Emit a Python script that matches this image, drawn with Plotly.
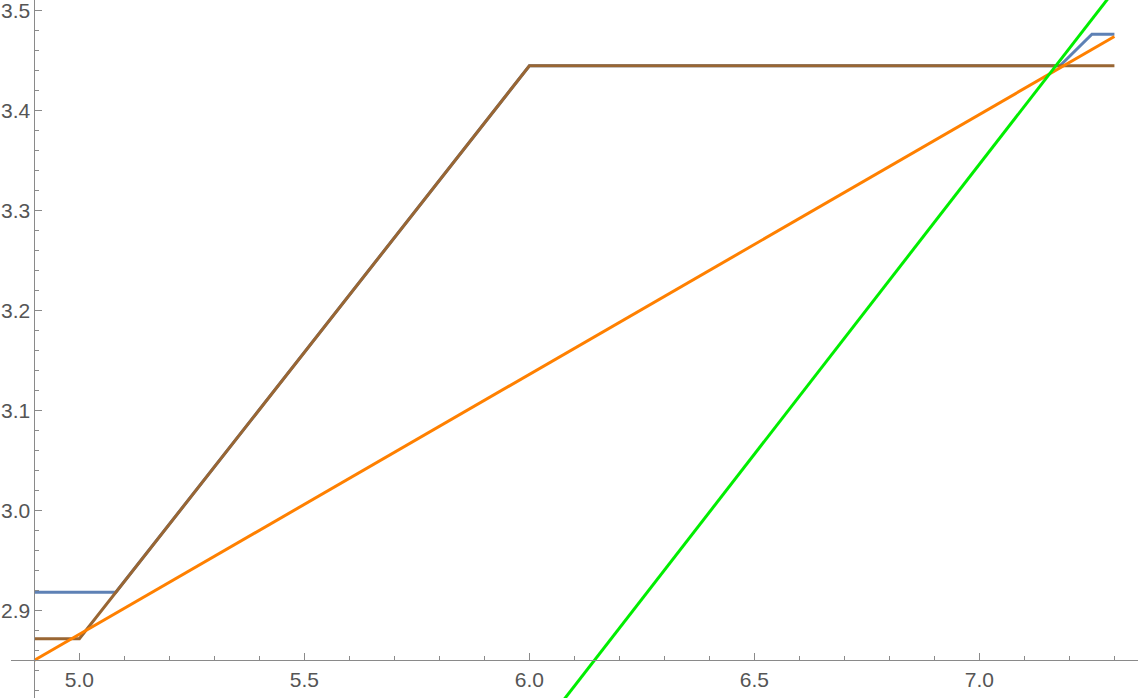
import plotly.graph_objects as go

# curve data
blue_x = [4.9, 5.081, 6.0, 7.179, 7.25, 7.3]
blue_y = [2.918, 2.918, 3.4445, 3.4445, 3.476, 3.476]

brown_x = [4.9, 5.0, 6.0, 7.3]
brown_y = [2.8715, 2.8715, 3.4445, 3.4445]

orange_x = [4.9, 7.3]
orange_y = [2.85, 3.4738]

green_x = [6.06, 7.30]
green_y = [2.801, 3.520]

x_range = [4.8236, 7.3524]
y_range = [2.8123, 3.5103]
axes_origin = (4.9, 2.85)
x_axis_start = 4.848  # x-axis line starts a bit left of the y-axis

AXIS_COL = "#8a8a8a"
LABEL_COL = "#555555"


def line(x, y, color):
    return go.Scatter(x=x, y=y, mode="lines", line=dict(color=color, width=3),
                      hoverinfo="skip", showlegend=False)


fig = go.Figure()
fig.add_trace(line(blue_x, blue_y, "#5E81B5"))
fig.add_trace(line(brown_x, brown_y, "#996633"))
fig.add_trace(line(orange_x, orange_y, "#FF8000"))
fig.add_trace(line(green_x, green_y, "#00EE00"))

# place axis lines at the axes origin (paper fractions)
xpos = (axes_origin[1] - y_range[0]) / (y_range[1] - y_range[0])
ypos = (axes_origin[0] - x_range[0]) / (x_range[1] - x_range[0])

# hide the bit of the x-axis line left of where Mathematica starts it
fig.add_shape(type="line", xref="x", yref="paper",
              x0=x_range[0], x1=x_axis_start, y0=xpos, y1=xpos,
              line=dict(color="white", width=3), layer="above")

fig.update_layout(
    width=1138, height=698,
    margin=dict(l=0, r=0, t=0, b=0),
    paper_bgcolor="white", plot_bgcolor="white",
    font=dict(family="Liberation Sans, Arial, sans-serif", size=21, color=LABEL_COL),
    xaxis=dict(
        range=x_range, anchor="free", position=xpos,
        showgrid=False, zeroline=False,
        showline=True, linecolor=AXIS_COL, linewidth=1,
        tick0=5.0, dtick=0.5, tickformat=".1f",
        ticks="inside", ticklen=7, tickcolor=AXIS_COL,
        ticklabeloverflow="allow",
        minor=dict(dtick=0.1, tick0=5.0, ticks="inside", ticklen=4, tickcolor=AXIS_COL, showgrid=False),
    ),
    yaxis=dict(
        range=y_range, anchor="free", position=ypos,
        showgrid=False, zeroline=False,
        showline=True, linecolor=AXIS_COL, linewidth=1,
        tick0=2.9, dtick=0.1, tickformat=".1f",
        ticks="inside", ticklen=7, tickcolor=AXIS_COL,
        ticklabeloverflow="allow",
        minor=dict(dtick=0.02, tick0=2.9, ticks="inside", ticklen=4, tickcolor=AXIS_COL, showgrid=False),
    ),
)

fig.write_html("out.html", config={"displayModeBar": False},
               post_script="document.body.style.margin='0';")
